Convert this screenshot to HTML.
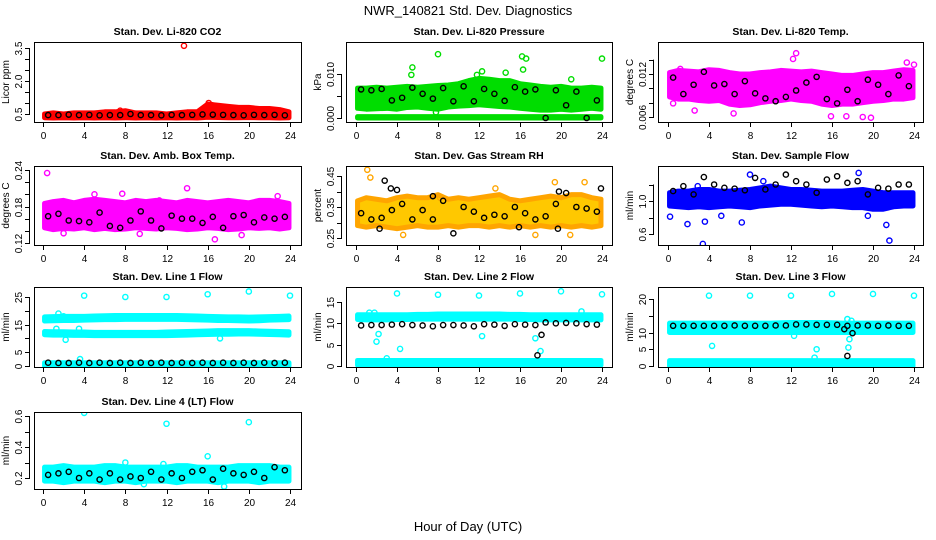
<!DOCTYPE html>
<html><head><meta charset="utf-8"><style>
html,body{margin:0;padding:0;background:#fff}
svg{display:block;font-family:"Liberation Sans",sans-serif}
</style></head><body>
<svg id="c" width="936" height="540" viewBox="0 0 936 540">
<text x="468" y="15" font-size="13" text-anchor="middle">NWR_140821 Std. Dev. Diagnostics</text>
<text x="468" y="531" font-size="13" text-anchor="middle">Hour of Day (UTC)</text>
</svg>
<script>
const HRS=[0.5,1.5,2.5,3.5,4.5,5.5,6.5,7.5,8.5,9.5,10.5,11.5,12.5,13.5,14.5,15.5,16.5,17.5,18.5,19.5,20.5,21.5,22.5,23.5];
const CX=[0,1,2,3,4,5,6,7,8,9,10,11,12,13,14,15,16,17,18,19,20,21,22,23,24];
const X_TICKS=[0,4,8,12,16,20,24];

// CO2
const co2Lo=[0.33,0.32,0.33,0.32,0.33,0.32,0.33,0.32,0.33,0.32,0.33,0.32,0.33,0.32,0.33,0.32,0.35,0.34,0.33,0.33,0.34,0.33,0.33,0.32,0.33];
const co2Hi=[0.5,0.55,0.5,0.55,0.55,0.55,0.6,0.6,0.65,0.55,0.55,0.55,0.5,0.55,0.6,0.6,0.95,0.9,0.85,0.8,0.8,0.75,0.75,0.7,0.6];
const co2Black=[0.45,0.45,0.47,0.45,0.46,0.44,0.45,0.45,0.5,0.45,0.45,0.44,0.46,0.45,0.46,0.48,0.47,0.46,0.45,0.44,0.46,0.45,0.46,0.44];
const co2Out=[[13.7,3.6],[16.1,1.0],[16.4,0.9],[7.5,0.65]];
// Pressure
const prLo=[0.0022,0.002,0.0021,0.0022,0.002,0.0024,0.0025,0.0022,0.002,0.0025,0.0027,0.0028,0.003,0.0028,0.0026,0.0025,0.0022,0.002,0.0018,0.0018,0.002,0.0018,0.002,0.0022,0.002];
const prHi=[0.0068,0.0068,0.007,0.0068,0.007,0.0072,0.007,0.0072,0.0074,0.0075,0.0078,0.0085,0.009,0.0088,0.0085,0.0085,0.0078,0.0075,0.0072,0.007,0.0072,0.0068,0.0068,0.007,0.0068];
const prZeroLo=[0,0,0,0,0,0,0,0,0,0,0,0,0,0,0,0,0,0,0,0,0,0,0,0,0];
const prZeroHi=[0.0003,0.0003,0.0003,0.0003,0.0003,0.0003,0.0003,0.0003,0.0003,0.0003,0.0003,0.0003,0.0003,0.0003,0.0003,0.0003,0.0003,0.0003,0.0003,0.0003,0.0003,0.0003,0.0003,0.0003,0.0003];
const prBlack=[0.0065,0.0063,0.0066,0.004,0.0046,0.0069,0.0055,0.0044,0.0068,0.0038,0.0072,0.0038,0.0066,0.0055,0.0039,0.007,0.006,0.0065,0.0,0.0063,0.0029,0.006,0.0,0.004];
const prOut=[[8,0.0145],[16.2,0.014],[16.6,0.0135],[24,0.0135],[5.5,0.0115],[5.4,0.0098],[12.3,0.0106],[11.8,0.0098],[14.6,0.0103],[16.3,0.011],[7.8,0.0013],[21,0.0088]];
// Temp
const tLo=[0.0088,0.0085,0.0085,0.0083,0.0082,0.0083,0.0078,0.0076,0.0077,0.008,0.0082,0.0083,0.0085,0.0083,0.0082,0.0078,0.0076,0.0078,0.0078,0.008,0.0082,0.0083,0.0085,0.0085,0.0087];
const tHi=[0.0122,0.0125,0.0124,0.0123,0.0126,0.0125,0.0122,0.012,0.012,0.0122,0.0123,0.0125,0.0124,0.0123,0.0124,0.0122,0.012,0.0118,0.0118,0.012,0.0122,0.0122,0.0124,0.0126,0.0125];
const tBlack=[0.0115,0.0092,0.0105,0.0123,0.0104,0.0106,0.0092,0.011,0.0093,0.0086,0.0082,0.0088,0.0097,0.0108,0.0116,0.0085,0.0079,0.0098,0.0082,0.0112,0.0105,0.0092,0.0118,0.0103];
const tOut=[[12.5,0.0149],[12.2,0.0141],[23.3,0.0136],[1.2,0.0127],[6.4,0.0065],[15.9,0.0061],[17.4,0.0061],[19,0.006],[19.8,0.0059],[24,0.0133],[2.6,0.0069],[0.5,0.0079]];
// Amb box
const aLo=[0.145,0.142,0.144,0.143,0.145,0.142,0.144,0.142,0.143,0.145,0.144,0.143,0.145,0.144,0.142,0.143,0.145,0.144,0.142,0.143,0.145,0.144,0.145,0.143,0.145];
const aHi=[0.185,0.188,0.19,0.186,0.19,0.192,0.19,0.188,0.186,0.19,0.188,0.19,0.188,0.186,0.19,0.188,0.186,0.188,0.19,0.188,0.186,0.19,0.19,0.188,0.185];
const aBlack=[0.164,0.168,0.157,0.156,0.154,0.17,0.148,0.145,0.157,0.172,0.157,0.144,0.165,0.16,0.16,0.153,0.163,0.145,0.164,0.166,0.154,0.162,0.16,0.163];
const aOut=[[0.4,0.235],[7.7,0.201],[14,0.21],[22.8,0.197],[16.7,0.126],[19.3,0.133],[9.4,0.135],[2,0.136],[5,0.2],[11.3,0.19]];
// RH
const rLo=[0.29,0.285,0.29,0.285,0.28,0.285,0.29,0.285,0.285,0.29,0.285,0.29,0.29,0.285,0.29,0.285,0.29,0.285,0.29,0.285,0.29,0.285,0.29,0.285,0.29];
const rHi=[0.37,0.38,0.375,0.37,0.38,0.385,0.38,0.38,0.39,0.375,0.38,0.375,0.38,0.385,0.39,0.375,0.37,0.375,0.38,0.385,0.38,0.39,0.39,0.38,0.375];
const rBlack=[0.33,0.31,0.315,0.34,0.36,0.31,0.34,0.31,0.37,0.265,0.35,0.335,0.315,0.325,0.32,0.35,0.33,0.31,0.32,0.36,0.395,0.35,0.345,0.335];
const rOut=[[1.1,0.47],[1.4,0.445],[8.2,0.38],[19.4,0.43],[22.3,0.43],[20.9,0.26],[17.5,0.26],[4.6,0.26],[13.6,0.41]];
const rBlackExtra=[[2.8,0.435],[3.4,0.41],[4.0,0.405],[7.5,0.385],[19.8,0.4],[23.9,0.41],[2.3,0.28],[15.9,0.285],[19.7,0.28]];
// Sample flow
const sLo=[0.94,0.93,0.92,0.93,0.92,0.93,0.94,0.93,0.92,0.94,0.95,0.96,0.96,0.95,0.94,0.93,0.94,0.93,0.92,0.92,0.9,0.9,0.93,0.94,0.94];
const sHi=[1.1,1.12,1.12,1.14,1.14,1.12,1.12,1.13,1.14,1.16,1.18,1.16,1.14,1.14,1.13,1.12,1.12,1.12,1.13,1.14,1.12,1.1,1.1,1.1,1.1];
const sBlack=[1.12,1.18,1.08,1.29,1.2,1.16,1.15,1.13,1.28,1.14,1.2,1.32,1.24,1.2,1.1,1.26,1.3,1.22,1.24,1.08,1.16,1.15,1.2,1.2];
const sOut=[[0.2,0.81],[1.9,0.72],[3.4,0.48],[3.6,0.75],[7.2,0.74],[21.3,0.71],[21.6,0.52],[8,1.32],[18.6,1.34],[9.3,1.24],[2.9,1.18],[5.2,0.82],[19.5,0.82]];
// Line 1
const l1aLo=[16.3,16.4,16.5,16.5,16.6,16.7,16.8,16.8,16.9,16.9,16.9,16.9,16.9,16.9,16.8,16.7,16.6,16.5,16.5,16.4,16.3,16.4,16.6,16.7,16.8];
const l1aHi=[17.8,17.9,18,18,18,18.1,18.2,18.3,18.3,18.3,18.3,18.3,18.3,18.3,18.2,18.1,18,17.9,17.8,17.8,17.7,17.8,17.9,18,18.1];
const l1bLo=[11.3,11.2,11.2,11.1,11.1,11,11,11,11,11,11,11,11,11.1,11.2,11.3,11.4,11.5,11.5,11.6,11.6,11.5,11.4,11.3,11.2];
const l1bHi=[12.5,12.4,12.4,12.3,12.3,12.2,12.2,12.2,12.2,12.2,12.2,12.2,12.3,12.4,12.5,12.6,12.7,12.8,12.8,12.8,12.8,12.7,12.6,12.5,12.4];
const l1cLo=[0,0,0,0,0,0,0,0,0,0,0,0,0,0,0,0,0,0,0,0,0,0,0,0,0];
const l1cHi=[1.2,1.2,1.2,1.2,1.2,1.2,1.2,1.2,1.2,1.2,1.2,1.2,1.2,1.2,1.2,1.2,1.2,1.2,1.2,1.2,1.2,1.2,1.2,1.2,1.2];
const l1Black=[1.2,1.1,1.1,1.2,1.1,1.2,1.1,1.2,1.1,1.2,1.1,1.2,1.1,1.2,1.1,1.2,1.1,1.2,1.1,1.2,1.1,1.2,1.1,1.2];
const l1Out=[[4,25.5],[8,25],[12,25],[16,26],[20,27],[24,25.5],[1.5,19],[2,18],[1.3,13.5],[2.2,9.5],[3.5,13.5],[17.2,10],[3.6,2.5]];
// Line 2
const l2aLo=[10.9,10.8,10.8,10.8,10.9,10.9,11,11,11,11,11,11,11,11,11,11,10.9,10.9,10.8,10.8,10.8,10.8,10.8,10.8,10.8];
const l2aHi=[12,12,12,12,12,12,12.1,12.1,12.2,12.2,12.2,12.2,12.2,12.2,12.2,12.1,12.1,12,12,12,12,12,12,12,12];
const l2bLo=[0.2,0.2,0.2,0.2,0.2,0.2,0.2,0.2,0.2,0.2,0.2,0.2,0.2,0.2,0.2,0.2,0.2,0.2,0.2,0.2,0.2,0.2,0.2,0.2,0.2];
const l2bHi=[1.3,1.3,1.3,1.3,1.3,1.3,1.3,1.3,1.3,1.3,1.3,1.3,1.3,1.3,1.3,1.3,1.3,1.3,1.3,1.3,1.3,1.3,1.3,1.3,1.3];
const l2Black=[9.5,9.6,9.6,9.7,9.8,9.6,9.5,9.3,9.6,9.6,9.5,9.3,9.8,9.7,9.4,9.8,9.7,9.6,10.2,10,10.1,10,9.8,9.7];
const l2Out=[[4,17],[8,16.7],[12,16.5],[16,17],[20,17.5],[24,16.8],[2,5.7],[2.2,7.5],[4.3,4],[12.3,7],[18,3.5],[17.5,6.5],[3,1.8],[1.3,12.5],[1.8,12.5],[22,12.8]];
const l2BlackExtra=[[17.7,2.5],[18.1,7.3]];
// Line 3
const l3aLo=[10,10,10,10,10,10,10,10,10,10,10,10,10,10,10,10,10,10,10,10,10,10,10,10,10];
const l3aHi=[12.8,12.8,12.8,12.8,12.8,12.8,12.8,12.8,12.8,12.8,12.8,12.9,13,13,13,13,12.9,12.8,12.8,12.8,12.8,12.8,12.8,12.8,12.8];
const l3bLo=[0,0,0,0,0,0,0,0,0,0,0,0,0,0,0,0,0,0,0,0,0,0,0,0,0];
const l3bHi=[1.6,1.6,1.6,1.6,1.6,1.6,1.6,1.6,1.6,1.6,1.6,1.6,1.6,1.6,1.6,1.6,1.6,1.6,1.6,1.6,1.6,1.6,1.6,1.6,1.6];
const l3Black=[12,12,12,12,12,12,12.1,12,12,12,12.1,12.1,12.4,12.4,12.3,12.3,12.3,12,12.1,12.1,12,12.1,12,12];
const l3Out=[[4,21],[8,21],[12,21],[16,21.5],[20,21.5],[24,21],[4.3,6],[12.3,9],[14.5,5],[17.6,5.5],[17.7,8],[17.5,14],[17.9,13.5],[14.3,2.5]];
const l3BlackExtra=[[17.5,3],[17.2,11],[18.0,9.8]];
// Line 4
const l4Lo=[0.18,0.18,0.17,0.18,0.18,0.18,0.17,0.18,0.18,0.17,0.18,0.18,0.18,0.17,0.18,0.18,0.18,0.17,0.18,0.18,0.18,0.17,0.18,0.18,0.18];
const l4Hi=[0.27,0.27,0.28,0.27,0.27,0.27,0.28,0.28,0.27,0.27,0.27,0.27,0.27,0.28,0.28,0.27,0.27,0.27,0.27,0.28,0.28,0.28,0.28,0.27,0.27];
const l4Black=[0.22,0.23,0.24,0.2,0.23,0.19,0.23,0.19,0.21,0.2,0.24,0.19,0.23,0.2,0.24,0.25,0.19,0.26,0.23,0.22,0.24,0.2,0.27,0.25];
const l4Out=[[4,0.62],[12,0.55],[20,0.56],[16,0.34],[8,0.3],[11.7,0.29],[17.6,0.145],[9.8,0.16]];

const NS="http://www.w3.org/2000/svg";
const svg=document.getElementById('c');
function mk(tag,attrs,parent){const e=document.createElementNS(NS,tag);for(const k in attrs)e.setAttribute(k,attrs[k]);(parent||svg).appendChild(e);return e;}

const COLS=[{x0:34,x1:301,a:43,b:290},{x0:346,x1:612,a:356,b:602},{x0:658,x1:923,a:668,b:914}];
const ROWS=[{y0:42,y1:122},{y0:166,y1:245},{y0:287,y1:367},{y0:412,y1:489}];

function panel(o){
  const C=COLS[o.col],R=ROWS[o.row];
  const g=mk('g',{});
  
  
  const xs=v=>C.a+(v/24)*(C.b-C.a);
  const ys=v=>o.p0+(v-o.v0)/(o.v1-o.v0)*(o.p1-o.p0);
  const clip='clip'+o.name;
  const cp=mk('clipPath',{id:clip},g);mk('rect',{x:C.x0,y:R.y0,width:C.x1-C.x0,height:R.y1-R.y0},cp);
  const pg=mk('g',{'clip-path':'url(#'+clip+')'},g);
  (o.bands||[]).forEach(bd=>{
    let pts=[];
    CX.forEach((x,i)=>pts.push(xs(Math.min(Math.max(x,0.15),23.9))+','+ys(bd.hi[i])));
    for(let i=CX.length-1;i>=0;i--)pts.push(xs(Math.min(Math.max(CX[i],0.15),23.9))+','+ys(bd.lo[i]));
    const p=mk('polygon',{points:pts.join(' '),fill:bd.fill||o.color,stroke:o.color,'stroke-width':5,'stroke-linejoin':'round'},pg);
    
    
  });
  const pt=(x,y,col,nm)=>{const c=mk('circle',{cx:xs(x),cy:ys(y),r:2.6,fill:'none',stroke:col,'stroke-width':1.4},pg);
    
    };
  (o.out||[]).forEach(d=>pt(d[0],d[1],o.color,'outlier-point'));
  (o.black||[]).forEach((v,i)=>pt(HRS[i],v,'#000','hourly-mean-point'));
  (o.blackExtra||[]).forEach(d=>pt(d[0],d[1],'#000','hourly-mean-point'));
  const box=mk('rect',{x:C.x0+0.5,y:R.y0+0.5,width:C.x1-C.x0,height:R.y1-R.y0,fill:'none',stroke:'#000','stroke-width':1},g);
  
  
  X_TICKS.forEach(t=>{const x=Math.round(xs(t))+0.5;mk('line',{x1:x,x2:x,y1:R.y1,y2:R.y1+5,stroke:'#000'},g);
    const tx=mk('text',{x:x,y:R.y1+17,'font-size':10,'text-anchor':'middle'},g);tx.textContent=t;
    
    });
  const yt0=ys(o.ticks[0]),yt1=ys(o.ticks[o.ticks.length-1]);
  mk('line',{x1:C.x0-4.5,x2:C.x0-4.5,y1:yt0,y2:yt1,stroke:'#000'},g);
  mk('line',{x1:X_TICKS.length&&Math.round(xs(0))+0.5,x2:Math.round(xs(24))+0.5,y1:R.y1+0.5,y2:R.y1+0.5,stroke:'none'},g);
  o.ticks.forEach((t,i)=>{const y=Math.round(ys(t))+0.5;mk('line',{x1:C.x0-9,x2:C.x0-4,y1:y,y2:y,stroke:'#000'},g);
    if(o.labels[i]){const tx=mk('text',{x:0,y:0,'font-size':10,'text-anchor':'middle',transform:`translate(${C.x0-12},${y}) rotate(-90)`},g);tx.textContent=o.labels[i];
      
      }});
  const yl=mk('text',{x:0,y:0,'font-size':10,'text-anchor':'middle',transform:`translate(${C.x0-25},${(R.y0+R.y1)/2}) rotate(-90)`},g);yl.textContent=o.ylab;
  
  
  const ti=mk('text',{x:(C.x0+C.x1)/2,y:R.y0-7,'font-size':10.5,'font-weight':'bold','text-anchor':'middle'},g);ti.textContent=o.title;
  
  
}

panel({name:'panel-co2',col:0,row:0,title:'Stan. Dev. Li-820 CO2',ylab:'Licor ppm',color:'#ff0000',v0:0.5,p0:114,v1:3.5,p1:48,
  ticks:[0.5,1,1.5,2,2.5,3,3.5],labels:['0.5','','','2.0','','','3.5'],bands:[{lo:co2Lo,hi:co2Hi}],black:co2Black,out:co2Out});
panel({name:'panel-pressure',col:1,row:0,title:'Stan. Dev. Li-820 Pressure',ylab:'kPa',color:'#00dd00',v0:0,p0:118,v1:0.01,p1:74,
  ticks:[0,0.005,0.01],labels:['0.000','','0.010'],bands:[{lo:prLo,hi:prHi},{lo:prZeroLo,hi:prZeroHi}],black:prBlack,out:prOut});
panel({name:'panel-temp',col:2,row:0,title:'Stan. Dev. Li-820 Temp.',ylab:'degrees C',color:'#ff00ff',v0:0.006,p0:117,v1:0.012,p1:74,
  ticks:[0.006,0.008,0.01,0.012,0.014],labels:['0.006','','','0.012',''],bands:[{lo:tLo,hi:tHi}],black:tBlack,out:tOut});
panel({name:'panel-ambbox',col:0,row:1,title:'Stan. Dev. Amb. Box Temp.',ylab:'degrees C',color:'#ff00ff',v0:0.12,p0:243,v1:0.24,p1:170,
  ticks:[0.12,0.14,0.16,0.18,0.2,0.22,0.24],labels:['0.12','','','0.18','','','0.24'],bands:[{lo:aLo,hi:aHi}],black:aBlack,out:aOut});
panel({name:'panel-rh',col:1,row:1,title:'Stan. Dev. Gas Stream RH',ylab:'percent',color:'#ffa500',v0:0.25,p0:238,v1:0.45,p1:176,
  ticks:[0.25,0.3,0.35,0.4,0.45],labels:['0.25','','0.35','','0.45'],bands:[{lo:rLo,hi:rHi,fill:'#ffc800'}],black:rBlack,blackExtra:rBlackExtra,out:rOut});
panel({name:'panel-sample-flow',col:2,row:1,title:'Stan. Dev. Sample Flow',ylab:'ml/min',color:'#0000ff',v0:0.6,p0:234,v1:1.0,p1:201,
  ticks:[0.6,0.8,1.0,1.2],labels:['0.6','','1.0',''],bands:[{lo:sLo,hi:sHi}],black:sBlack,out:sOut});
panel({name:'panel-line1',col:0,row:2,title:'Stan. Dev. Line 1 Flow',ylab:'ml/min',color:'#00ffff',v0:0,p0:366,v1:25,p1:297,
  ticks:[0,5,10,15,20,25],labels:['0','5','','15','','25'],bands:[{lo:l1aLo,hi:l1aHi},{lo:l1bLo,hi:l1bHi},{lo:l1cLo,hi:l1cHi}],black:l1Black,out:l1Out});
panel({name:'panel-line2',col:1,row:2,title:'Stan. Dev. Line 2 Flow',ylab:'ml/min',color:'#00ffff',v0:0,p0:366,v1:15,p1:302,
  ticks:[0,5,10,15],labels:['0','5','10','15'],bands:[{lo:l2aLo,hi:l2aHi},{lo:l2bLo,hi:l2bHi}],black:l2Black,blackExtra:l2BlackExtra,out:l2Out});
panel({name:'panel-line3',col:2,row:2,title:'Stan. Dev. Line 3 Flow',ylab:'ml/min',color:'#00ffff',v0:0,p0:366,v1:20,p1:299,
  ticks:[0,5,10,15,20],labels:['0','5','10','','20'],bands:[{lo:l3aLo,hi:l3aHi},{lo:l3bLo,hi:l3bHi}],black:l3Black,blackExtra:l3BlackExtra,out:l3Out});
panel({name:'panel-line4',col:0,row:3,title:'Stan. Dev. Line 4 (LT) Flow',ylab:'ml/min',color:'#00ffff',v0:0.2,p0:478,v1:0.6,p1:416,
  ticks:[0.2,0.3,0.4,0.5,0.6],labels:['0.2','','0.4','','0.6'],bands:[{lo:l4Lo,hi:l4Hi}],black:l4Black,out:l4Out});
</script>
</body></html>
